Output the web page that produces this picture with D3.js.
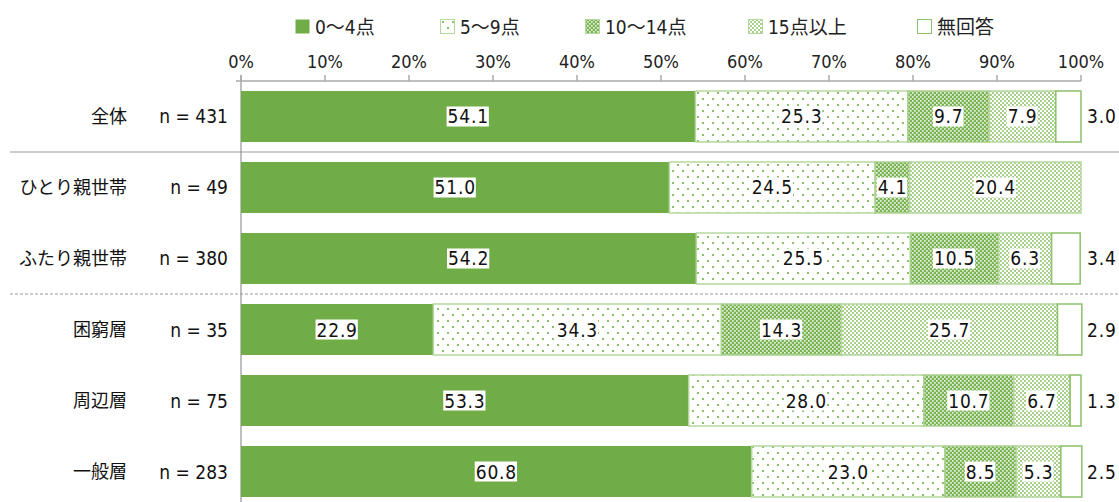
<!DOCTYPE html>
<html><head><meta charset="utf-8">
<script src="https://cdn.jsdelivr.net/npm/d3@7"></script>
<style>
body{margin:0;background:#fff;}
text{font-family:"DejaVu Sans Condensed","DejaVu Sans","Noto Sans CJK JP",sans-serif;font-stretch:condensed;}
</style></head>
<body><svg id="c" width="1119" height="502"></svg>
<script>
const categories = ["全体","ひとり親世帯","ふたり親世帯","困窮層","周辺層","一般層"];
const nLabels = ["n = 431","n = 49","n = 380","n = 35","n = 75","n = 283"];
const seriesNames = ["0〜4点","5〜9点","10〜14点","15点以上","無回答"];
const s0 = [54.1,51.0,54.2,22.9,53.3,60.8];
const s1 = [25.3,24.5,25.5,34.3,28.0,23.0];
const s2 = [9.7,4.1,10.5,14.3,10.7,8.5];
const s3 = [7.9,20.4,6.3,25.7,6.7,5.3];
const s4 = [3.0,0,3.4,2.9,1.3,2.5];
const ticks = [0,10,20,30,40,50,60,70,80,90,100];

const series = [s0,s1,s2,s3,s4];
const svg = d3.select("#c");
const defs = svg.append("defs");
const G = "#70ad47";

// patterns
let p = defs.append("pattern").attr("id","p1").attr("patternUnits","userSpaceOnUse").attr("width",10).attr("height",12);
p.append("rect").attr("width",10).attr("height",12).attr("fill","#fff");
p.append("rect").attr("x",2).attr("y",2).attr("width",2).attr("height",2).attr("fill","#8cc06a");
p.append("rect").attr("x",7).attr("y",8).attr("width",2).attr("height",2).attr("fill","#8cc06a");

p = defs.append("pattern").attr("id","p2").attr("patternUnits","userSpaceOnUse").attr("width",4).attr("height",4);
p.append("rect").attr("width",4).attr("height",4).attr("fill","#7bb455");
p.append("rect").attr("x",0).attr("y",0).attr("width",1.7).attr("height",1.7).attr("fill","#e6f2dd");
p.append("rect").attr("x",2).attr("y",2).attr("width",1.7).attr("height",1.7).attr("fill","#e6f2dd");

p = defs.append("pattern").attr("id","p3").attr("patternUnits","userSpaceOnUse").attr("width",4).attr("height",4);
p.append("rect").attr("width",4).attr("height",4).attr("fill","#fff");
p.append("rect").attr("x",0).attr("y",0).attr("width",2).attr("height",2).attr("fill","#a8d08c");
p.append("rect").attr("x",2).attr("y",2).attr("width",2).attr("height",2).attr("fill","#a8d08c");

const fills = [G,"url(#p1)","url(#p2)","url(#p3)","#fff"];
const strokes = ["none","#b5d89f","#a9d18e","#b5d89f","#8cc06a"];

const x = d3.scaleLinear().domain([0,100]).range([241,1081]);
const y = d3.scaleBand().domain(categories).range([81,507]).paddingInner(0.2817).paddingOuter(0.1408);

// legend
const legX = [295,440,585,748,917];
seriesNames.forEach((nm,i)=>{
  const g = svg.append("g").attr("transform",`translate(${legX[i]},19)`);
  g.append("rect").attr("x",0.5).attr("y",0.5).attr("width",14).attr("height",14).attr("fill",fills[i])
    .attr("stroke", i===0?"none":(i===4?"#8cc06a":"#b5d89f"));
  g.append("text").attr("x",20).attr("y",15).attr("font-size",19).attr("fill","#222").text(nm);
});

// axis
const ax = svg.append("g").attr("transform","translate(0,81)");
ax.append("line").attr("x1",236).attr("x2",1081).attr("stroke","#aaa").attr("stroke-width",1.5);
ax.selectAll(".t").data(ticks).join("line").attr("x1",d=>x(d)).attr("x2",d=>x(d)).attr("y1",0).attr("y2",-6).attr("stroke","#aaa").attr("stroke-width",1.5);
ax.selectAll(".tl").data(ticks).join("text").attr("x",d=>x(d)).attr("y",-13).attr("text-anchor","middle")
  .attr("font-size",18).attr("fill","#222").text(d=>d+"%");
svg.append("line").attr("x1",241).attr("x2",241).attr("y1",75).attr("y2",502).attr("stroke","#aaa").attr("stroke-width",1.5);

// separators
const sepY1 = (y(categories[0])+y.bandwidth()+y(categories[1]))/2;
const sepY2 = (y(categories[2])+y.bandwidth()+y(categories[3]))/2;
svg.append("line").attr("x1",10).attr("x2",1119).attr("y1",sepY1).attr("y2",sepY1).attr("stroke","#999").attr("stroke-width",1.2);
svg.append("line").attr("x1",10).attr("x2",1119).attr("y1",sepY2).attr("y2",sepY2).attr("stroke","#999").attr("stroke-width",1.2).attr("stroke-dasharray","3,2");

// bars
categories.forEach((c,ri)=>{
  let cum = 0;
  const yy = y(c), h = y.bandwidth();
  series.forEach((s,si)=>{
    const v = s[ri];
    const x0 = x(cum), x1 = x(cum+v);
    cum += v;
    if(v<=0) return;
    svg.append("rect").attr("x",x0).attr("y",yy).attr("width",x1-x0).attr("height",h)
      .attr("fill",fills[si]).attr("stroke",strokes[si]).attr("stroke-width",1.5);
    const lab = v.toFixed(1);
    let tx, anchor;
    if(si===4){ tx = x(100)+6; anchor="start"; }
    else { tx = (x0+x1)/2; anchor="middle"; }
    const t = svg.append("text").attr("x",tx).attr("y",yy+h/2+7).attr("text-anchor",anchor)
      .attr("font-size",19).attr("letter-spacing","0.8px").attr("fill","#111").text(lab);
    if(si!==4){
      const bb = t.node().getBBox();
      svg.insert("rect", ()=>t.node()).attr("x",bb.x-1).attr("y",bb.y+1).attr("width",bb.width+1).attr("height",bb.height-2).attr("fill","#fff");
    }
  });
  svg.append("text").attr("x",127).attr("y",yy+h/2+6.5).attr("text-anchor","end").attr("font-size",18)
    .attr("font-family","'Noto Sans CJK JP',sans-serif").attr("fill","#111").text(c);
  svg.append("text").attr("x",228).attr("y",yy+h/2+7).attr("text-anchor","end").attr("font-size",19)
    .attr("fill","#111").style("white-space","pre").text(nLabels[ri]);
});
</script></body></html>
